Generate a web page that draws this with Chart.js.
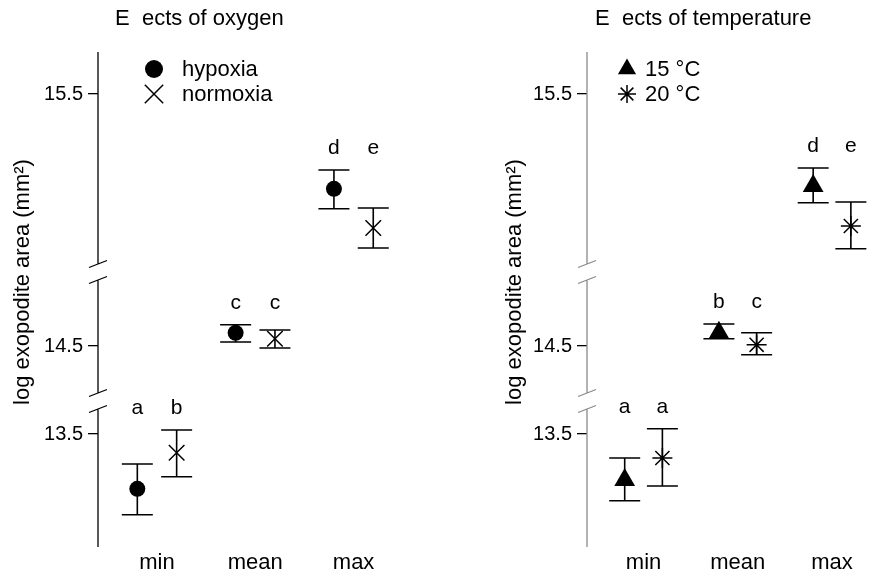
<!DOCTYPE html>
<html>
<head>
<meta charset="utf-8">
<script src="https://cdn.jsdelivr.net/npm/chart.js@4.4.0/dist/chart.umd.min.js"></script>
<style>
body { margin: 0; background: #fff; }
.wrap { display: flex; width: 877px; height: 577px; }
canvas { display: block; }
</style>
</head>
<body>
<div class="wrap">
    <canvas id="oxygenChart" width="440" height="577"></canvas>
    <canvas id="tempChart" width="437" height="577"></canvas>
</div>
<script>
const groups = ['min', 'mean', 'max'];
const yTickValues = [13.5, 14.5, 15.5];

// Effects of oxygen
const hypoxiaMean = [13.363, 14.533, 15.263];
const hypoxiaLow = [13.298, 14.510, 15.213];
const hypoxiaHigh = [13.425, 14.553, 15.310];
const hypoxiaLetters = ['a', 'c', 'd'];

const normoxiaMean = [13.453, 14.518, 15.165];
const normoxiaLow = [13.393, 14.495, 15.115];
const normoxiaHigh = [13.510, 14.540, 15.215];
const normoxiaLetters = ['b', 'c', 'e'];

// Effects of temperature
const t15Mean = [13.385, 14.533, 15.270];
const t15Low = [13.333, 14.518, 15.228];
const t15High = [13.440, 14.555, 15.315];
const t15Letters = ['a', 'b', 'd'];

const t20Mean = [13.440, 14.503, 15.170];
const t20Low = [13.370, 14.478, 15.113];
const t20High = [13.513, 14.533, 15.230];
const t20Letters = ['a', 'c', 'e'];

const FONT = "'Liberation Sans', Arial, Helvetica, sans-serif";

// broken y axis: one stacked scale per piece (top piece first)
const segments = [
    {id: 'yTop', min: 15.055, max: 15.605, stackWeight: 220, weight: 3, tick: yTickValues[2]},
    {id: 'yMid', min: 14.3625, max: 14.685, stackWeight: 129, weight: 2, tick: yTickValues[1]},
    {id: 'yLow', min: 13.2175, max: 13.5825, stackWeight: 146, weight: 1, tick: yTickValues[0]}
];
// min -> low piece, mean -> middle piece, max -> top piece
const groupAxis = ['yLow', 'yMid', 'yTop'];

function drawMarker(ctx, style, x, y, r) {
    ctx.beginPath();
    if (style === 'circle') {
        ctx.arc(x, y, r, 0, Math.PI * 2);
        ctx.fill();
    } else if (style === 'triangle') {
        ctx.moveTo(x, y - r);
        ctx.lineTo(x + r * Math.sin(Math.PI / 3), y + r / 2);
        ctx.lineTo(x - r * Math.sin(Math.PI / 3), y + r / 2);
        ctx.closePath();
        ctx.fill();
    } else if (style === 'crossRot') {
        let d = r * Math.SQRT1_2;
        ctx.moveTo(x - d, y - d); ctx.lineTo(x + d, y + d);
        ctx.moveTo(x - d, y + d); ctx.lineTo(x + d, y - d);
        ctx.stroke();
    } else if (style === 'star') {
        let d = r * Math.SQRT1_2;
        ctx.moveTo(x - r, y); ctx.lineTo(x + r, y);
        ctx.moveTo(x, y - r); ctx.lineTo(x, y + r);
        ctx.moveTo(x - d, y - d); ctx.lineTo(x + d, y + d);
        ctx.moveTo(x - d, y + d); ctx.lineTo(x + d, y - d);
        ctx.stroke();
    }
}

function panelPlugin(opt) {
    return {
        id: 'panelDecor',
        beforeDatasetsDraw(chart) {
            // error bars
            let ctx = chart.ctx;
            ctx.save();
            ctx.strokeStyle = '#000';
            ctx.lineWidth = 1.6;
            chart.data.datasets.forEach((ds, di) => {
                let meta = chart.getDatasetMeta(di);
                let yScale = chart.scales[ds.yAxisID];
                ds.data.forEach((p, pi) => {
                    let x = meta.data[pi].x;
                    let yl = yScale.getPixelForValue(p.low);
                    let yh = yScale.getPixelForValue(p.high);
                    ctx.beginPath();
                    ctx.moveTo(x, yl); ctx.lineTo(x, yh);
                    ctx.moveTo(x - 15.5, yl); ctx.lineTo(x + 15.5, yl);
                    ctx.moveTo(x - 15.5, yh); ctx.lineTo(x + 15.5, yh);
                    ctx.stroke();
                });
            });
            ctx.restore();
        },
        afterDraw(chart) {
            let ctx = chart.ctx;
            let area = chart.chartArea;
            ctx.save();

            // axis line with two breaks
            let ax = area.left;
            let b1 = chart.scales.yTop.bottom;
            let b2 = chart.scales.yMid.bottom;
            let gap = 8;
            ctx.strokeStyle = opt.axisColor;
            ctx.lineWidth = 1.3;
            ctx.beginPath();
            ctx.moveTo(ax, area.top); ctx.lineTo(ax, b1 - gap);
            ctx.moveTo(ax, b1 + gap); ctx.lineTo(ax, b2 - gap);
            ctx.moveTo(ax, b2 + gap); ctx.lineTo(ax, area.bottom);
            [b1 - gap, b1 + gap, b2 - gap, b2 + gap].forEach(y => {
                ctx.moveTo(ax - 9, y + 3.5);
                ctx.lineTo(ax + 9, y - 3.5);
            });
            ctx.stroke();

            ctx.fillStyle = '#000';
            ctx.strokeStyle = '#000';

            // panel title
            ctx.font = '22px ' + FONT;
            ctx.textAlign = 'left';
            ctx.textBaseline = 'middle';
            ctx.fillText(opt.title, area.left + opt.titleDx, 19);

            // y axis title
            ctx.save();
            ctx.translate(opt.yTitleX, area.top + 230);
            ctx.rotate(-Math.PI / 2);
            ctx.textAlign = 'center';
            ctx.fillText('log exopodite area (mm²)', 0, 0);
            ctx.restore();

            // legend
            opt.series.forEach((s, k) => {
                let y = area.top + 17 + k * 25;
                ctx.lineWidth = 1.5;
                drawMarker(ctx, s.style, area.left + opt.legendDx, y, s.legendRadius);
                ctx.textAlign = 'left';
                ctx.fillText(s.name, area.left + opt.legendTextDx, y + 1);
            });

            // significance letters
            ctx.font = '21px ' + FONT;
            ctx.textAlign = 'center';
            groups.forEach((g, gi) => {
                let sets = chart.data.datasets.map((ds, di) => ({ds, di})).filter(o => o.ds.group === gi);
                let topCap = Math.min(...sets.map(o => chart.scales[o.ds.yAxisID].getPixelForValue(o.ds.data[0].high)));
                sets.forEach(o => {
                    let x = chart.getDatasetMeta(o.di).data[0].x;
                    ctx.fillText(o.ds.letter, x, topCap - 22);
                });
            });
            ctx.restore();
        }
    };
}

function makePanel(canvasId, series, opt) {
    let datasets = [];
    series.forEach(s => {
        groups.forEach((g, i) => {
            datasets.push({
                label: s.name,
                group: i,
                letter: s.letters[i],
                yAxisID: groupAxis[i],
                data: [{x: i + s.offset, y: s.mean[i], low: s.low[i], high: s.high[i]}],
                pointStyle: s.style,
                pointRadius: s.radius,
                pointHoverRadius: s.radius,
                backgroundColor: '#000',
                borderColor: '#000',
                borderWidth: s.filled ? 0 : 1.5,
                showLine: false,
                clip: false
            });
        });
    });

    let scales = {
        x: {
            type: 'linear',
            min: -0.6,
            max: 2.35,
            afterBuildTicks: scale => { scale.ticks = groups.map((g, i) => ({value: i})); },
            afterFit: scale => { scale.height = 30; },
            ticks: {
                callback: v => groups[v],
                color: '#000',
                padding: 3,
                font: {family: FONT, size: 22}
            },
            grid: {display: false, drawTicks: false},
            border: {display: false}
        }
    };
    segments.forEach(seg => {
        scales[seg.id] = {
            type: 'linear',
            position: 'left',
            stack: 'panel',
            stackWeight: seg.stackWeight,
            weight: seg.weight,
            min: seg.min,
            max: seg.max,
            afterBuildTicks: scale => { scale.ticks = [{value: seg.tick}]; },
            afterFit: scale => { scale.width = opt.axisWidth; },
            ticks: {
                callback: v => v.toFixed(1),
                color: '#000',
                padding: 5,
                font: {family: FONT, size: 20}
            },
            grid: {
                drawOnChartArea: false,
                drawTicks: true,
                tickLength: 10,
                color: '#000',
                lineWidth: 1.3
            },
            border: {display: false}
        };
    });

    return new Chart(document.getElementById(canvasId), {
        type: 'scatter',
        data: {datasets: datasets},
        options: {
            responsive: false,
            animation: false,
            events: [],
            layout: {padding: {left: 0, right: opt.padRight, top: 52, bottom: 0}},
            scales: scales,
            plugins: {
                legend: {display: false},
                title: {display: false},
                tooltip: {enabled: false}
            }
        },
        plugins: [panelPlugin(Object.assign({series: series}, opt))]
    });
}

makePanel('oxygenChart', [
    {name: 'hypoxia', mean: hypoxiaMean, low: hypoxiaLow, high: hypoxiaHigh, letters: hypoxiaLetters,
        style: 'circle', radius: 8, legendRadius: 9, offset: -0.2, filled: true},
    {name: 'normoxia', mean: normoxiaMean, low: normoxiaLow, high: normoxiaHigh, letters: normoxiaLetters,
        style: 'crossRot', radius: 11, legendRadius: 13, offset: 0.2, filled: false}
], {
    title: 'E  ects of oxygen', titleDx: 17, yTitleX: 23,
    legendDx: 56, legendTextDx: 84,
    axisWidth: 98, padRight: 52, axisColor: '#000'
});

makePanel('tempChart', [
    {name: '15 °C', mean: t15Mean, low: t15Low, high: t15High, letters: t15Letters,
        style: 'triangle', radius: 12, legendRadius: 10.5, offset: -0.2, filled: true},
    {name: '20 °C', mean: t20Mean, low: t20Low, high: t20High, letters: t20Letters,
        style: 'star', radius: 10, legendRadius: 9, offset: 0.2, filled: false}
], {
    title: 'E  ects of temperature', titleDx: 8, yTitleX: 75,
    legendDx: 40, legendTextDx: 58,
    axisWidth: 147, padRight: 0, axisColor: '#8a8a8a'
});
</script>
</body>
</html>
